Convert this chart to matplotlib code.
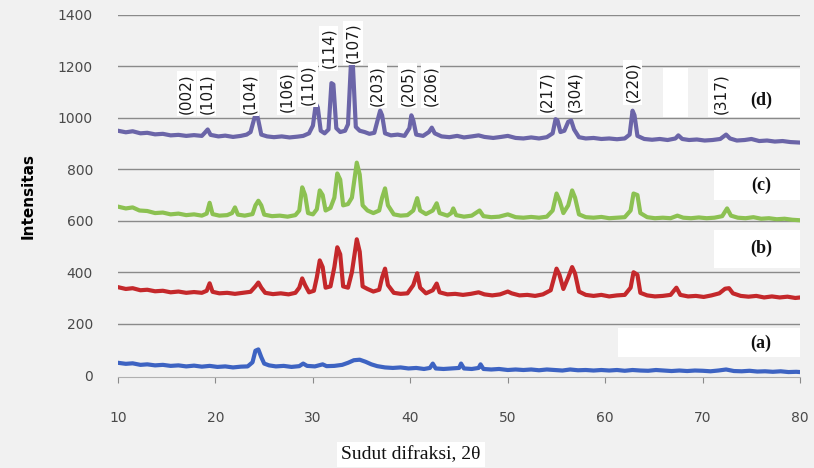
import matplotlib.pyplot as plt
from matplotlib.patches import Rectangle

# XRD patterns (2theta in degrees, intensity)
a_2theta = [10.0, 10.8, 11.5, 12.3, 13.0, 13.8, 14.6, 15.4, 16.2, 17.0, 17.8, 18.6, 19.4, 20.2, 21.0, 21.8,
            22.6, 23.3, 23.8, 24.1, 24.4, 24.7, 25.0, 25.5, 26.2, 27.0, 27.8, 28.6, 29.0, 29.4, 30.2, 31.0,
            31.4, 32.2, 33.0, 33.6, 34.2, 34.8, 35.4, 36.0, 36.6, 37.4, 38.2, 39.0, 39.8, 40.6, 41.4, 42.0,
            42.3, 42.6, 43.4, 44.2, 45.0, 45.2, 45.5, 46.3, 47.0, 47.2, 47.5, 48.3, 49.1, 50.0, 50.8, 51.6,
            52.4, 53.2, 54.0, 54.8, 55.6, 56.4, 57.2, 58.0, 58.8, 59.6, 60.4, 61.2, 62.0, 62.8, 63.6, 64.4,
            65.2, 66.0, 66.8, 67.6, 68.4, 69.2, 70.0, 70.8, 71.6, 72.4, 73.2, 74.0, 74.8, 75.6, 76.4, 77.2,
            78.0, 78.8, 79.6, 80.0]
a_counts = [48, 44, 46, 40, 42, 38, 40, 36, 38, 34, 37, 33, 36, 32, 34, 30,
            33, 34, 50, 95, 100, 70, 45, 38, 34, 36, 32, 35, 45, 36, 34, 42,
            35, 36, 40, 48, 58, 60, 52, 42, 35, 30, 28, 30, 26, 28, 24, 28,
            45, 26, 24, 26, 28, 45, 26, 24, 28, 42, 24, 22, 24, 20, 22, 20,
            22, 19, 22, 20, 18, 22, 19, 20, 18, 20, 18, 20, 17, 20, 18, 17,
            20, 18, 16, 18, 16, 18, 17, 15, 18, 22, 16, 15, 17, 14, 15, 13,
            15, 12, 13, 12]

b_2theta = [10.0, 10.8, 11.5, 12.3, 13.0, 13.8, 14.6, 15.4, 16.2, 17.0, 17.8, 18.6, 19.1, 19.4, 19.7, 20.4,
            21.2, 22.0, 22.8, 23.6, 24.1, 24.4, 24.7, 25.1, 25.9, 26.7, 27.5, 28.2, 28.6, 28.9, 29.2, 29.6,
            30.1, 30.4, 30.7, 31.0, 31.3, 31.8, 32.2, 32.5, 32.8, 33.1, 33.6, 34.0, 34.5, 34.8, 35.1, 35.6,
            36.2, 36.8, 37.1, 37.4, 37.7, 38.3, 39.0, 39.7, 40.3, 40.7, 41.0, 41.6, 42.3, 42.7, 43.0, 43.8,
            44.6, 45.4, 46.2, 47.0, 47.6, 48.4, 49.2, 50.0, 50.4, 51.2, 52.0, 52.8, 53.6, 54.4, 55.0, 55.3,
            55.7, 56.2, 56.6, 56.9, 57.3, 58.0, 58.8, 59.6, 60.4, 61.2, 62.0, 62.6, 62.9, 63.3, 63.6, 64.3,
            65.1, 65.9, 66.7, 67.3, 67.7, 68.5, 69.3, 70.1, 70.9, 71.7, 72.3, 72.7, 73.1, 73.9, 74.7, 75.5,
            76.3, 77.1, 77.9, 78.7, 79.5, 80.0]
b_counts = [342, 335, 338, 330, 332, 326, 328, 322, 325, 320, 323, 320, 328, 357, 324, 318,
            320, 316, 320, 324, 345, 360, 340, 320, 315, 318, 314, 320, 340, 376, 350, 322,
            328, 380, 446, 420, 340, 345, 420, 497, 470, 345, 340, 400, 528, 480, 345, 335,
            325, 332, 380, 414, 350, 320, 316, 318, 350, 396, 340, 318, 330, 356, 322, 314,
            316, 312, 316, 322, 314, 310, 314, 325, 318, 310, 312, 308, 314, 330, 414, 390,
            335, 380, 420, 395, 325, 312, 308, 312, 306, 310, 312, 340, 400, 390, 320, 310,
            306, 308, 312, 340, 312, 306, 308, 304, 310, 318, 336, 338, 318, 308, 305, 308,
            302, 306, 302, 305, 300, 302]

c_2theta = [10.0, 10.8, 11.5, 12.2, 13.0, 13.8, 14.6, 15.4, 16.2, 17.0, 17.8, 18.6, 19.1, 19.4, 19.7, 20.4,
            21.2, 21.7, 22.0, 22.3, 23.0, 23.8, 24.1, 24.4, 24.7, 25.0, 25.8, 26.6, 27.4, 28.2, 28.6, 28.9,
            29.2, 29.5, 30.0, 30.4, 30.7, 31.0, 31.3, 31.8, 32.2, 32.5, 32.8, 33.1, 33.6, 34.0, 34.5, 34.8,
            35.1, 35.6, 36.2, 36.8, 37.1, 37.4, 37.7, 38.3, 39.0, 39.7, 40.3, 40.7, 41.0, 41.6, 42.3, 42.7,
            43.0, 43.8, 44.2, 44.4, 44.7, 45.5, 46.3, 47.1, 47.5, 48.3, 49.1, 50.0, 50.8, 51.6, 52.4, 53.2,
            54.0, 54.6, 55.0, 55.3, 55.7, 56.2, 56.6, 56.9, 57.3, 58.0, 58.8, 59.6, 60.4, 61.2, 62.0, 62.6,
            62.9, 63.3, 63.6, 64.3, 65.1, 65.9, 66.7, 67.4, 68.0, 68.8, 69.6, 70.4, 71.2, 72.0, 72.5, 72.9,
            73.6, 74.4, 75.2, 76.0, 76.8, 77.6, 78.4, 79.2, 80.0]
c_counts = [655, 648, 652, 640, 638, 630, 632, 625, 628, 622, 625, 620, 628, 670, 626, 620,
            622, 630, 652, 624, 620, 626, 660, 678, 660, 624, 618, 620, 616, 622, 640, 730,
            700, 630, 625, 645, 718, 700, 640, 650, 690, 784, 760, 660, 665, 690, 826, 780,
            660, 640, 630, 640, 690, 726, 660, 625, 620, 622, 640, 688, 640, 626, 640, 668,
            630, 620, 630, 648, 622, 616, 620, 640, 618, 614, 616, 625, 614, 612, 615, 612,
            616, 640, 706, 680, 630, 660, 718, 690, 625, 614, 612, 615, 610, 612, 614, 640,
            706, 700, 630, 614, 610, 612, 610, 620, 612, 610, 613, 610, 612, 618, 648, 620,
            612, 610, 614, 608, 610, 606, 608, 604, 602]

d_2theta = [10.0, 10.8, 11.5, 12.3, 13.0, 13.8, 14.6, 15.4, 16.2, 17.0, 17.8, 18.6, 18.9, 19.2, 19.5, 20.3,
            21.0, 21.8, 22.6, 23.2, 23.6, 24.0, 24.2, 24.4, 24.7, 25.3, 26.0, 26.8, 27.6, 28.4, 29.0, 29.6,
            30.0, 30.3, 30.5, 30.8, 31.2, 31.6, 31.9, 32.1, 32.4, 32.8, 33.3, 33.6, 33.9, 34.1, 34.4, 34.8,
            35.3, 35.8, 36.3, 36.7, 36.9, 37.1, 37.4, 38.0, 38.7, 39.4, 39.9, 40.1, 40.3, 40.6, 41.3, 41.9,
            42.2, 42.5, 43.2, 44.0, 44.8, 45.5, 46.3, 47.0, 47.6, 48.5, 49.3, 50.0, 50.8, 51.6, 52.4, 53.2,
            54.0, 54.6, 54.9, 55.1, 55.4, 55.8, 56.2, 56.5, 56.8, 57.3, 58.0, 58.8, 59.6, 60.4, 61.2, 62.0,
            62.5, 62.8, 63.0, 63.3, 64.0, 64.8, 65.6, 66.4, 67.2, 67.5, 67.9, 68.6, 69.4, 70.2, 71.0, 71.8,
            72.4, 72.8, 73.5, 74.3, 75.0, 75.8, 76.6, 77.4, 78.2, 79.0, 80.0]
d_counts = [950, 944, 948, 940, 942, 936, 938, 932, 934, 930, 933, 930, 942, 955, 934, 928,
            931, 926, 930, 935, 945, 1000, 1020, 990, 935, 928, 925, 928, 924, 927, 930, 940,
            970, 1055, 1040, 950, 940, 955, 1135, 1130, 960, 945, 950, 975, 1210, 1205, 965, 950,
            945, 938, 942, 1000, 1028, 1010, 940, 932, 935, 930, 960, 1010, 990, 935, 930, 945,
            962, 940, 928, 925, 930, 924, 928, 932, 926, 922, 926, 930, 922, 920, 924, 920,
            925, 940, 995, 990, 945, 950, 985, 990, 955, 925, 920, 922, 918, 920, 917, 920,
            935, 1028, 1010, 930, 918, 915, 918, 914, 920, 932, 918, 914, 916, 912, 914, 918,
            935, 920, 912, 914, 918, 910, 912, 908, 910, 906, 904]

# Miller index labels on pattern (d): text, 2theta, intensity of label foot
hkl_text = ["(002)", "(101)", "(104)", "(106)", "(110)", "(114)", "(107)", "(203)", "(205)", "(206)",
            "(217)", "(304)", "(220)", "(317)"]
hkl_2theta = [17.0, 19.1, 23.5, 27.3, 29.5, 31.6, 34.1, 36.6, 39.7, 42.1, 54.0, 56.9, 62.8, 71.8]
hkl_foot = [1017, 1017, 1017, 1021, 1052, 1192, 1212, 1048, 1048, 1048, 1021, 1021, 1060, 1017]

series_names = ["(a)", "(b)", "(c)", "(d)"]
series_colors = ["#3d63c2", "#c4282b", "#8cc152", "#6b65a8"]
name_2theta = [76.0, 76.0, 76.0, 76.0]
name_counts = [124, 493, 738, 1068]

y_ticks = [0, 200, 400, 600, 800, 1000, 1200, 1400]
x_ticks = [10, 20, 30, 40, 50, 60, 70, 80]

BG = "#f1f1f1"

fig = plt.figure(figsize=(8.14, 4.68), dpi=100, facecolor=BG)
ax = fig.add_axes([0.145, 0.194, 0.838, 0.774], facecolor=BG)

for y in y_ticks[1:]:
    ax.axhline(y, color="#8a8a8a", lw=1.0, zorder=1)

xs = [a_2theta, b_2theta, c_2theta, d_2theta]
ys = [a_counts, b_counts, c_counts, d_counts]
for x, y, col in zip(xs, ys, series_colors):
    ax.plot(x, y, color=col, lw=3.0, solid_joinstyle="round", zorder=3)

# white boxes sitting behind the series names (as in the source figure)
boxes = [(61.3, 70, 18.7, 113), (71.2, 416, 8.8, 147), (71.2, 680, 8.8, 118),
         (70.5, 1002, 9.5, 188), (65.9, 1002, 2.6, 190)]
for bx, by, bw, bh in boxes:
    ax.add_patch(Rectangle((bx, by), bw, bh, facecolor="white", edgecolor="none", zorder=2))

for t, x, y in zip(hkl_text, hkl_2theta, hkl_foot):
    ax.text(x, y, t, rotation=90, ha="center", va="bottom", fontsize=11,
            family="DejaVu Sans", color="#1a1a1a", zorder=4,
            bbox=dict(facecolor="white", edgecolor="none", pad=1.5))

for t, x, y in zip(series_names, name_2theta, name_counts):
    ax.text(x, y, t, ha="center", va="center", fontsize=13, fontweight="bold",
            family="Liberation Serif", color="#111111", zorder=4)

ax.set_xlim(10, 80)
ax.set_ylim(-8, 1400)
ax.set_xticks(x_ticks)
ax.set_yticks(y_ticks)
ax.tick_params(axis="y", length=0, pad=18, labelsize=10, labelcolor="#4a4a4a")
ax.tick_params(axis="x", length=4, color="#8a8a8a", pad=20, labelsize=10, labelcolor="#4a4a4a")
for s in ["top", "right", "left"]:
    ax.spines[s].set_visible(False)
ax.spines["bottom"].set_color("#b0b0b0")

ax.set_ylabel("Intensitas", fontsize=11, fontweight="bold", labelpad=16)
fig.text(0.505, 0.028, "Sudut difraksi, 2\u03b8", ha="center", va="center", fontsize=14,
         family="Liberation Serif", color="#111111",
         bbox=dict(facecolor="white", edgecolor="none", pad=3))

fig.savefig("out.png", dpi=100, facecolor=BG)
